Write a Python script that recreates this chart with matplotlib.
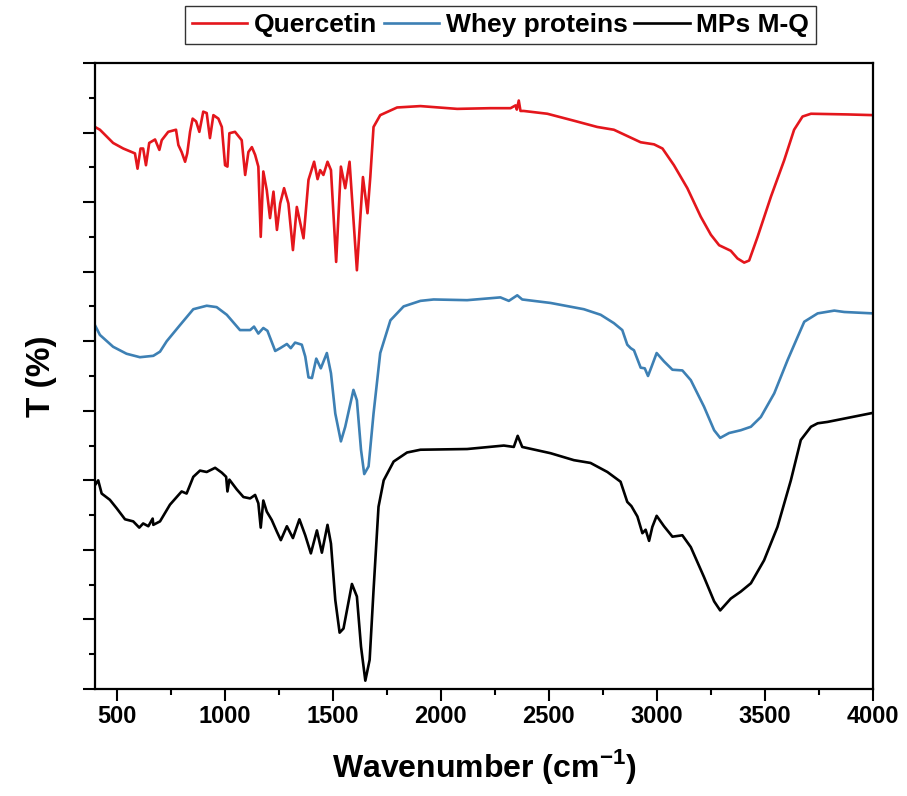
import matplotlib
matplotlib.use("Agg")
import matplotlib.pyplot as plt
from matplotlib.ticker import MultipleLocator, NullFormatter

# FTIR spectra: wavenumber (cm-1) and offset transmittance values
quercetin_wn = [400, 423, 484, 531, 585, 597, 611, 623, 636, 651, 678, 698, 709, 739, 775,
                786, 801, 817, 827, 840, 852, 868, 883, 901, 917, 932, 948, 971, 987, 1002,
                1013, 1022, 1048, 1079, 1095, 1110, 1126, 1141, 1156, 1167, 1179, 1195, 1210,
                1226, 1242, 1257, 1275, 1295, 1316, 1334, 1365, 1388, 1414, 1430, 1442, 1457,
                1476, 1492, 1516, 1538, 1558, 1578, 1612, 1640, 1661, 1674, 1689, 1720, 1798,
                1906, 2076, 2230, 2323, 2346, 2352, 2361, 2369, 2384, 2493, 2616, 2724, 2801,
                2863, 2925, 2987, 3026, 3079, 3141, 3203, 3250, 3288, 3342, 3373, 3404, 3427,
                3466, 3528, 3589, 3635, 3674, 3713, 3883, 4000]
quercetin_t = [80.8, 80.4, 78.5, 77.7, 77.0, 74.8, 77.7, 77.7, 75.3, 78.5, 79.0, 77.5, 78.9,
               80.1, 80.4, 78.2, 77.2, 75.8, 77.0, 80.1, 82.0, 81.6, 80.1, 83.0, 82.8, 79.2,
               82.5, 82.0, 80.8, 75.3, 75.1, 79.9, 80.1, 78.9, 73.9, 77.2, 77.9, 76.8, 75.1,
               65.0, 74.4, 71.7, 67.7, 71.5, 66.0, 69.8, 72.0, 69.8, 63.1, 69.3, 64.8, 73.2,
               75.8, 73.3, 74.6, 73.9, 75.8, 74.6, 61.4, 75.1, 72.0, 75.8, 60.2, 73.6, 68.4,
               73.6, 80.8, 82.5, 83.6, 83.8, 83.4, 83.5, 83.5, 83.9, 83.3, 84.6, 83.1, 83.1,
               82.7, 81.7, 80.8, 80.4, 79.5, 78.6, 78.3, 77.7, 75.3, 72.0, 67.9, 65.3, 63.8,
               63.0, 61.9, 61.3, 61.6, 65.0, 70.8, 76.0, 80.4, 82.3, 82.7, 82.6, 82.5]

whey_wn = [400, 423, 484, 546, 608, 670, 701, 732, 793, 855, 917, 963, 1010, 1071, 1118, 1136,
           1156, 1179, 1198, 1234, 1257, 1288, 1306, 1326, 1357, 1373, 1388, 1404, 1424, 1445,
           1473, 1492, 1512, 1538, 1558, 1596, 1612, 1631, 1646, 1666, 1689, 1720, 1767, 1828,
           1906, 1967, 2122, 2276, 2315, 2354, 2377, 2508, 2662, 2740, 2801, 2840, 2863, 2879,
           2894, 2925, 2944, 2959, 2975, 2999, 3033, 3072, 3118, 3157, 3218, 3265, 3293, 3334,
           3388, 3435, 3481, 3543, 3605, 3651, 3682, 3744, 3821, 3867, 4000]
whey_t = [52.3, 50.9, 49.2, 48.2, 47.7, 47.9, 48.5, 50.0, 52.3, 54.6, 55.1, 54.9, 53.8, 51.6,
          51.6, 52.1, 51.1, 51.9, 51.5, 48.6, 49.0, 49.6, 49.0, 49.8, 49.5, 47.8, 44.8, 44.7,
          47.5, 46.1, 48.3, 45.4, 39.6, 35.6, 37.7, 43.0, 41.5, 34.4, 30.9, 32.0, 39.6, 48.3,
          53.0, 55.0, 55.8, 56.0, 55.9, 56.3, 55.8, 56.6, 56.0, 55.5, 54.6, 53.8, 52.6, 51.6,
          49.5, 49.0, 48.7, 46.2, 46.1, 45.0, 46.3, 48.3, 47.1, 45.9, 45.8, 44.4, 40.6, 37.2,
          36.1, 36.8, 37.2, 37.7, 39.1, 42.5, 47.3, 50.6, 52.8, 54.0, 54.4, 54.2, 54.0]

mps_wn = [400, 415, 431, 469, 500, 539, 577, 605, 623, 647, 667, 670, 701, 747, 801, 824, 855,
          886, 917, 956, 987, 1007, 1013, 1022, 1056, 1087, 1118, 1141, 1156, 1167, 1179, 1195,
          1218, 1242, 1260, 1288, 1316, 1346, 1373, 1399, 1427, 1450, 1476, 1492, 1512, 1532,
          1550, 1589, 1612, 1631, 1651, 1671, 1689, 1712, 1736, 1782, 1844, 1906, 2122, 2292,
          2338, 2356, 2377, 2508, 2616, 2693, 2771, 2832, 2863, 2882, 2910, 2933, 2948, 2964,
          2979, 2999, 3033, 3072, 3118, 3157, 3218, 3265, 3293, 3342, 3388, 3435, 3496, 3558,
          3620, 3666, 3713, 3744, 3790, 4000]
mps_t = [29.3, 30.0, 28.1, 27.2, 26.0, 24.4, 24.1, 23.2, 23.8, 23.4, 24.5, 23.6, 24.1, 26.5,
         28.4, 28.1, 30.5, 31.4, 31.2, 31.8, 31.1, 30.5, 28.4, 30.1, 28.7, 27.6, 27.4, 27.9,
         26.7, 23.2, 27.1, 25.5, 24.3, 22.6, 21.4, 23.4, 21.7, 24.4, 22.1, 19.5, 22.8, 19.6,
         23.6, 20.9, 12.8, 8.1, 8.7, 15.1, 13.3, 6.1, 1.2, 4.2, 14.2, 26.2, 30.0, 32.7, 34.0,
         34.4, 34.5, 35.0, 34.8, 36.4, 34.8, 33.9, 32.9, 32.5, 31.2, 29.8, 26.9, 26.3, 24.8,
         22.4, 22.9, 21.3, 23.3, 24.9, 23.4, 21.9, 22.1, 20.4, 16.1, 12.6, 11.3, 13.0, 14.0,
         15.2, 18.5, 23.3, 30.0, 35.8, 37.7, 38.2, 38.4, 39.7]

labels = ["Quercetin", "Whey proteins", "MPs M-Q"]
colors = ["#e4161c", "#3d80b4", "#000000"]
xticks = [500, 1000, 1500, 2000, 2500, 3000, 3500, 4000]

plt.rcParams["font.family"] = ["Liberation Sans", "DejaVu Sans"]
plt.rcParams["font.weight"] = "bold"
plt.rcParams["mathtext.fontset"] = "custom"
plt.rcParams["mathtext.rm"] = "Liberation Sans:bold"
plt.rcParams["mathtext.bf"] = "Liberation Sans:bold"

fig = plt.figure(figsize=(9.07, 7.96), dpi=100)
ax = fig.add_axes([0.1047, 0.1344, 0.8578, 0.7865])

lines = []
for wn, t, lab, c in zip([quercetin_wn, whey_wn, mps_wn], [quercetin_t, whey_t, mps_t],
                         labels, colors):
    ln, = ax.plot(wn, t, color=c, lw=1.9, label=lab, solid_joinstyle="round")
    lines.append(ln)

ax.set_xlim(400, 4000)
ax.set_ylim(0, 90)
ax.set_xticks(xticks)
ax.set_xticklabels([str(v) for v in xticks])
ax.xaxis.set_minor_locator(MultipleLocator(250))
ax.yaxis.set_major_locator(MultipleLocator(10))
ax.yaxis.set_minor_locator(MultipleLocator(5))
ax.yaxis.set_major_formatter(NullFormatter())

for s in ax.spines.values():
    s.set_linewidth(1.6)
ax.tick_params(which="major", direction="out", length=8.5, width=1.5,
               labelsize=17, pad=3)
ax.tick_params(which="minor", direction="out", length=4.5, width=1.5)
ax.tick_params(top=False, right=False, which="both")
for lab in ax.get_xticklabels():
    lab.set_fontweight("bold")

ax.set_xlabel("Wavenumber (cm$^{\\mathbf{-1}}$)", fontsize=23, fontweight="bold", labelpad=14)
ax.set_ylabel("T (%)", fontsize=24, fontweight="bold", labelpad=16)

leg = fig.legend(handles=lines, labels=labels, loc="center", ncol=3,
                 bbox_to_anchor=(0.552, 0.9686), frameon=True, fancybox=False,
                 edgecolor="black", handlelength=2.1, handletextpad=0.25,
                 columnspacing=0.25, borderpad=0.25, borderaxespad=0,
                 prop={"weight": "bold", "size": 19})
leg.get_frame().set_linewidth(1.0)

fig.savefig("out.png", dpi=100)
